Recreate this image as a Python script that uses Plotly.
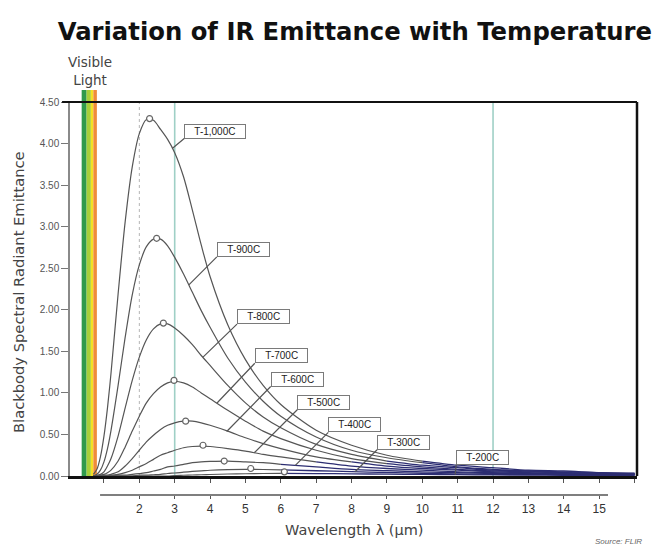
import plotly.graph_objects as go

# ---------------- data ----------------
wavelength = [0.7, 0.8, 0.9, 1.0, 1.1, 1.2, 1.4, 1.6, 1.8, 2.0, 2.2, 2.4, 2.6, 2.8, 3.0,
              3.25, 3.5, 3.75, 4.0, 4.5, 5.0, 5.5, 6.0, 7.0, 8.0, 9.0, 10, 11, 12, 13, 14, 15, 16]

temps = ["T-1,000C", "T-900C", "T-800C", "T-700C", "T-600C", "T-500C", "T-400C", "T-300C", "T-200C"]

t1000 = [0.02, 0.08, 0.23, 0.48, 0.82, 1.24, 2.19, 3.06, 3.72, 4.12, 4.29, 4.28, 4.17, 4.05, 3.89,
         3.60, 3.20, 2.78, 2.40, 1.82, 1.40, 1.09, 0.86, 0.55, 0.37, 0.25, 0.18, 0.13, 0.10, 0.07, 0.06, 0.04, 0.03]
t900 = [0.00, 0.02, 0.07, 0.17, 0.33, 0.55, 1.09, 1.67, 2.18, 2.54, 2.76, 2.85, 2.85, 2.77, 2.63,
        2.43, 2.21, 1.99, 1.79, 1.42, 1.13, 0.90, 0.72, 0.47, 0.31, 0.22, 0.16, 0.11, 0.08, 0.06, 0.05, 0.04, 0.03]
t800 = [0.00, 0.01, 0.02, 0.05, 0.12, 0.21, 0.48, 0.82, 1.15, 1.43, 1.64, 1.77, 1.83, 1.83, 1.78,
        1.69, 1.58, 1.45, 1.33, 1.09, 0.88, 0.71, 0.58, 0.38, 0.26, 0.18, 0.13, 0.10, 0.07, 0.06, 0.04, 0.03, 0.03]
t700 = [0.00, 0.00, 0.01, 0.02, 0.04, 0.07, 0.18, 0.35, 0.54, 0.72, 0.88, 0.99, 1.07, 1.12, 1.14,
        1.12, 1.07, 1.00, 0.93, 0.79, 0.66, 0.54, 0.45, 0.31, 0.21, 0.15, 0.11, 0.08, 0.06, 0.05, 0.04, 0.03, 0.02]
t600 = [0.00, 0.00, 0.00, 0.01, 0.01, 0.02, 0.05, 0.12, 0.21, 0.31, 0.41, 0.49, 0.56, 0.61, 0.64,
        0.66, 0.66, 0.64, 0.61, 0.54, 0.46, 0.39, 0.33, 0.23, 0.17, 0.12, 0.09, 0.07, 0.05, 0.04, 0.03, 0.02, 0.02]
t500 = [0.00, 0.00, 0.00, 0.00, 0.00, 0.01, 0.02, 0.04, 0.07, 0.11, 0.15, 0.20, 0.25, 0.28, 0.31,
        0.34, 0.355, 0.36, 0.355, 0.33, 0.30, 0.26, 0.23, 0.17, 0.12, 0.09, 0.07, 0.05, 0.04, 0.03, 0.03, 0.02, 0.02]
t400 = [0.00, 0.00, 0.00, 0.00, 0.00, 0.00, 0.01, 0.01, 0.02, 0.03, 0.04, 0.06, 0.08, 0.11, 0.12,
        0.14, 0.16, 0.17, 0.175, 0.18, 0.17, 0.16, 0.14, 0.11, 0.08, 0.065, 0.05, 0.04, 0.03, 0.025, 0.02, 0.015, 0.013]
t300 = [0.00, 0.00, 0.00, 0.00, 0.00, 0.00, 0.00, 0.00, 0.00, 0.01, 0.01, 0.015, 0.02, 0.03, 0.036,
        0.046, 0.055, 0.062, 0.069, 0.077, 0.08, 0.078, 0.074, 0.063, 0.052, 0.042, 0.033, 0.026, 0.021, 0.017, 0.014, 0.011, 0.009]
t200 = [0.00, 0.00, 0.00, 0.00, 0.00, 0.00, 0.00, 0.00, 0.00, 0.00, 0.00, 0.00, 0.00, 0.00, 0.006,
        0.009, 0.012, 0.015, 0.018, 0.024, 0.027, 0.030, 0.031, 0.029, 0.026, 0.022, 0.019, 0.016, 0.013, 0.011, 0.009, 0.0075, 0.0063]

curves = [t1000, t900, t800, t700, t600, t500, t400, t300, t200]

peak_wavelength = [2.29, 2.49, 2.68, 2.98, 3.31, 3.80, 4.40, 5.15, 6.10]
peak_value = [4.30, 2.86, 1.84, 1.15, 0.66, 0.37, 0.18, 0.09, 0.05]

# where each label's leader touches its curve (wavelength, value)
label_wavelength = [2.93, 3.40, 3.80, 4.19, 4.47, 5.25, 6.41, 8.10, 10.93]
label_value = [3.94, 2.30, 1.43, 0.875, 0.535, 0.28, 0.128, 0.051, 0.016]

# visible-light band, wavelength limits of each colour strip (um)
visible_lo = [0.37, 0.51, 0.63, 0.70]
visible_hi = [0.51, 0.63, 0.70, 0.80]

x_ticks = list(range(2, 16))
frame_ticks = list(range(1, 17))
y_ticks = [0, 0.5, 1.0, 1.5, 2.0, 2.5, 3.0, 3.5, 4.0, 4.5]

# ---------------- styles ----------------
FONT = "Liberation Sans, Arial, Helvetica, sans-serif"
WIDE = "DejaVu Sans, Liberation Sans, sans-serif"
NARROW = "Liberation Sans Narrow, Arial Narrow, Liberation Sans, sans-serif"
visible_colors = ["#2f9a4c", "#a6cf3a", "#f4e024", "#ef8b3b"]
label_offsets = [(12, -10), (28, -28), (34, -33), (38, -40), (44, -45), (43, -43), (33, -33), (22, -22), (1, -10)]
TAIL_LEVEL = 0.2   # below this (in the long-wave tail) lines look navy

fig = go.Figure()

# curves: grey body, navy tail near the baseline
for vals in curves:
    split = next(i for i, (w, v) in enumerate(zip(wavelength, vals)) if w >= 6 and v <= TAIL_LEVEL)
    fig.add_trace(go.Scatter(x=wavelength[:split + 1], y=vals[:split + 1], mode="lines",
                             line=dict(color="#555555", width=1.2, shape="spline", smoothing=0.8),
                             hoverinfo="skip"))
    fig.add_trace(go.Scatter(x=wavelength[split:], y=vals[split:], mode="lines",
                             line=dict(color="#2c2d72", width=1.3, shape="spline", smoothing=0.8),
                             hoverinfo="skip"))

# peak markers
fig.add_trace(go.Scatter(x=peak_wavelength, y=peak_value, mode="markers",
                         marker=dict(symbol="circle", size=6, color="white",
                                     line=dict(color="#666666", width=1.2)),
                         hoverinfo="skip"))

# dummy trace for lower tick axis
fig.add_trace(go.Scatter(x=[x_ticks[0]], y=[None], xaxis="x2", yaxis="y", mode="markers",
                         showlegend=False, hoverinfo="skip"))

PLOT_BOTTOM_PX = 500.0
PLOT_TOP_PX = 102.0
H = PLOT_BOTTOM_PX - PLOT_TOP_PX
def py(px):
    return (PLOT_BOTTOM_PX - px) / H

shapes = []
# visible band (extends a little above the plot frame)
for lo, hi, c in zip(visible_lo, visible_hi, visible_colors):
    shapes.append(dict(type="rect", xref="x", yref="y domain", x0=lo, x1=hi, y0=0,
                       y1=(476 - 90) / 374, fillcolor=c, line=dict(width=0), layer="below"))
shapes.append(dict(type="line", xref="x", yref="y domain", x0=2, x1=2, y0=0, y1=1,
                   line=dict(color="#b5b5b5", width=1, dash="dot"), layer="below"))
for xv in (3, 12):
    shapes.append(dict(type="line", xref="x", yref="y domain", x0=xv, x1=xv, y0=0, y1=1,
                       line=dict(color="#9fd0c6", width=1.6), layer="below"))
shapes.append(dict(type="line", xref="paper", yref="y domain", x0=-0.014, x1=1.0, y0=1, y1=1,
                   line=dict(color="#111111", width=2)))
shapes.append(dict(type="line", xref="paper", yref="y domain", x0=1.0, x1=1.0, y0=0, y1=1,
                   line=dict(color="#111111", width=2.5)))
shapes.append(dict(type="line", xref="x", yref="paper", x0=0.89, x1=15.25, y0=py(495), y1=py(495),
                   line=dict(color="#555555", width=1.3)))

annotations = []
pad = "&nbsp;" * 3
for name, lx, lv, (dx, dy) in zip(temps, label_wavelength, label_value, label_offsets):
    annotations.append(dict(x=lx, y=lv, xref="x", yref="y",
                            text=pad + name + pad, showarrow=True,
                            arrowhead=0, arrowwidth=1.2, arrowcolor="#555555",
                            ax=dx, ay=dy, xanchor="left", yanchor="bottom",
                            font=dict(family=FONT, size=10, color="#222222"),
                            bgcolor="white", bordercolor="#7a7a7a", borderwidth=1, borderpad=1))

annotations.append(dict(x=-0.0917, y=py(292), xref="paper", yref="paper",
                        xanchor="center", yanchor="middle",
                        text="Blackbody Spectral Radiant Emittance", textangle=-90, showarrow=False,
                        font=dict(family=WIDE, size=14.7, color="#444444")))
annotations.append(dict(x=(354 - 70) / 567, y=py(530), xref="paper", yref="paper",
                        xanchor="center", yanchor="middle",
                        text="Wavelength λ (µm)", showarrow=False,
                        font=dict(family=WIDE, size=14.5, color="#444444")))
annotations.append(dict(x=(618 - 70) / 567, y=py(541), xref="paper", yref="paper",
                        xanchor="center", yanchor="middle",
                        text="<i>Source: FLIR</i>", showarrow=False,
                        font=dict(family=NARROW, size=8, color="#666666")))
annotations.append(dict(x=0.6, y=py(71), xref="x", yref="paper",
                        xanchor="center", yanchor="middle",
                        text="Visible<br>Light", showarrow=False,
                        font=dict(family=WIDE, size=13.5, color="#444444")))

fig.update_layout(
    width=667, height=546,
    margin=dict(l=70, r=30, t=102, b=46, pad=0),
    paper_bgcolor="white", plot_bgcolor="white",
    showlegend=False,
    title=dict(text="<b>Variation of IR Emittance with Temperature</b>",
               font=dict(family=WIDE, size=24.3, color="#111111"),
               x=0.532, xanchor="center", xref="container",
               y=1 - 31 / 546, yanchor="middle", yref="container"),
    xaxis=dict(domain=[0, 1], range=[0.04, 16.07], showgrid=False, zeroline=False,
               showline=True, linecolor="#111111", linewidth=2.5,
               ticks="outside", ticklen=4, tickwidth=1, tickcolor="#555555",
               tickvals=frame_ticks, showticklabels=False, anchor="y"),
    xaxis2=dict(overlaying="x", anchor="free", position=py(495), range=[0.04, 16.07],
                showgrid=False, zeroline=False, showline=False,
                ticks="outside", ticklen=3, tickwidth=1, tickcolor="#555555",
                tickvals=x_ticks, ticktext=[str(t) for t in x_ticks],
                tickfont=dict(family=FONT, size=12, color="#333333")),
    yaxis=dict(domain=[py(476), 1], range=[0, 4.5], showgrid=False, zeroline=False,
               showline=True, linecolor="#8a8a8a", linewidth=1.5,
               ticks="outside", ticklen=7, tickwidth=1, tickcolor="#777777",
               tickvals=y_ticks, ticktext=[f"{v:.2f}" for v in y_ticks],
               tickfont=dict(family=FONT, size=10, color="#555555")),
    shapes=shapes, annotations=annotations,
)

fig.write_html("out.html")
